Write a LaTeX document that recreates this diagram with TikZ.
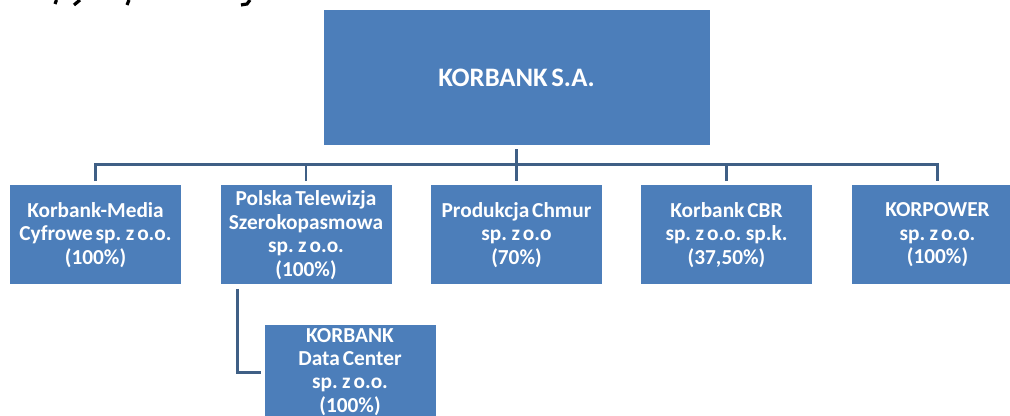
\documentclass[tikz,border=0pt]{standalone}
\usepackage{fontspec}
\usetikzlibrary{calc}
\setmainfont[WordSpace=0.6]{Carlito}
\definecolor{boxblue}{HTML}{4C7EBA}
\definecolor{linkblue}{HTML}{3F5F85}
\tikzset{
  px/.style={x=0.75pt,y=-0.75pt},
  org/.style={fill=boxblue,draw=none,inner sep=0pt,align=center,text=white,
    minimum width=128.25pt,minimum height=74.25pt,
    font=\fontsize{16}{17.6}\selectfont\bfseries},
  top/.style={org,minimum width=289.5pt,minimum height=101.25pt,font=\fontsize{20}{24}\selectfont\bfseries},
  link/.style={draw=linkblue,line width=1.9pt},
  frag/.style={line width=2.4pt,line cap=butt,black},
}
\begin{document}
\begin{tikzpicture}[px]
\useasboundingbox (0,0) rectangle (1010,416);
\fill[white] (0,0) rectangle (1010,416);
\clip (0,0) rectangle (1010,416);
% descender fragments of the cut-off heading
\draw[frag] (56.5,0) -- (55,4);
\draw[frag] (80,0) -- (74,5);
\draw[frag] (129,0) -- (127,5);
\draw[frag] (250,0) -- (247,4) -- (241,5);
\node[top] (root) at (516.5,77.5) {KORBANK S.A.};
\node[org] (a) at (95.5,235) {Korbank-Media\\Cyfrowe sp. z o.o.\\(100\%)};
\node[org] (b) at (306,235) {Polska Telewizja\\Szerokopasmowa\\sp. z o.o.\\(100\%)};
\node[org] (c) at (516.5,235) {Produkcja Chmur\\sp. z o.o\\(70\%)};
\node[org] (d) at (726.5,235) {Korbank CBR\\sp. z o.o. sp.k.\\(37,50\%)};
\node[org] (e) at (937.5,235) {KORPOWER\\sp. z o.o.\\(100\%)};
\node[org,anchor=north] (f) at (350,325) {\phantom{x}};
\node[anchor=center,align=center,text=white,inner sep=0pt,font=\fontsize{16}{17.4}\selectfont\bfseries] (ft) at (350,372) {KORBANK\\Data Center\\sp. z o.o.\\(100\%)};
\coordinate (rootout) at ($(root.south)+(0,4)$);
\coordinate (bus) at ($(root.south)+(0,19.5)$);
\coordinate (ain) at ($(a.north)+(0,-4)$);
\coordinate (bin) at ($(b.north)+(0,-4)$);
\coordinate (cin) at ($(c.north)+(0,-4)$);
\coordinate (din) at ($(d.north)+(0,-4)$);
\coordinate (ein) at ($(e.north)+(0,-4)$);
\coordinate (bout) at ($(b.south west)+(17,4)$);
\coordinate (fin) at ($(f.west)+(-3,-2)$);
\draw[link] (rootout) -- (cin);
\draw[link] (ain) |- (bus) -| (ein);
\draw[link] (bin) -- (bin |- bus);
\draw[link] (din) -- (din |- bus);
\draw[link] (bout) |- (fin);
\end{tikzpicture}
\end{document}
